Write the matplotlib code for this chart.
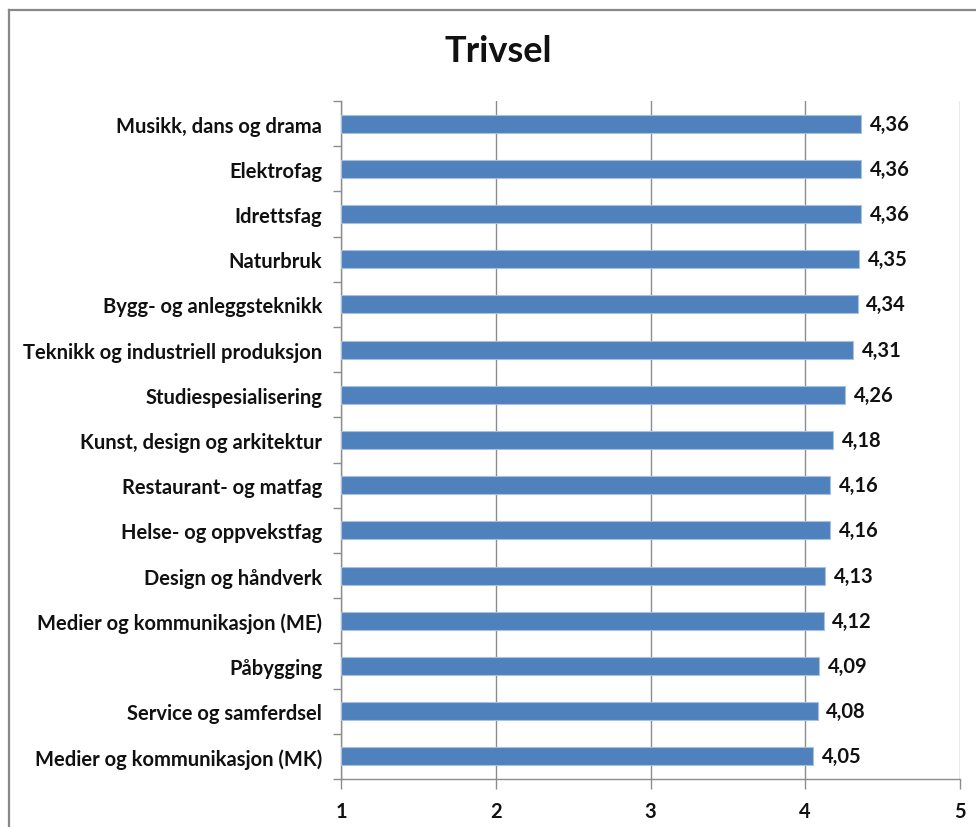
import matplotlib.pyplot as plt
from matplotlib.lines import Line2D
from matplotlib.ticker import FixedLocator

plt.rcParams['font.family'] = ['Lato', 'DejaVu Sans']

# studieprogram og gjennomsnittlig trivsel
programmer = [
    'Musikk, dans og drama',
    'Elektrofag',
    'Idrettsfag',
    'Naturbruk',
    'Bygg- og anleggsteknikk',
    'Teknikk og industriell produksjon',
    'Studiespesialisering',
    'Kunst, design og arkitektur',
    'Restaurant- og matfag',
    'Helse- og oppvekstfag',
    'Design og håndverk',
    'Medier og kommunikasjon (ME)',
    'Påbygging',
    'Service og samferdsel',
    'Medier og kommunikasjon (MK)',
]
trivsel = [4.36, 4.36, 4.36, 4.35, 4.34, 4.31, 4.26, 4.18, 4.16, 4.16,
           4.13, 4.12, 4.09, 4.08, 4.05]
x_ticks = [1, 2, 3, 4, 5]

fig = plt.figure(figsize=(9.76, 8.28), dpi=100)
ax = fig.add_axes([341 / 976, 1 - 780 / 828, 619 / 976, 678 / 828])

grey = '#8c8c8c'
txt = '#111111'
fs = 14.5
pos = list(range(len(programmer)))
ax.barh(pos, [v - 1 for v in trivsel], left=1, height=0.4,
        color='#4f81bd', edgecolor='#a9c1e0', linewidth=0.8, zorder=3)

for p, v in zip(pos, trivsel):
    ax.text(v + 0.055, p, f'{v:.2f}'.replace('.', ','), va='center', ha='left',
            fontsize=fs, fontweight='bold', color=txt)

ax.set_xlim(1, 5)
ax.set_ylim(len(programmer) - 0.5, -0.5)
ax.set_xticks(x_ticks)
ax.set_xticklabels([str(t) for t in x_ticks], fontsize=fs, fontweight='bold', color=txt)
ax.set_yticks(pos)
ax.set_yticklabels(programmer, fontsize=fs, fontweight='bold', color=txt)
ax.yaxis.set_minor_locator(FixedLocator([p - 0.5 for p in pos] + [len(pos) - 0.5]))

ax.tick_params(axis='y', which='major', length=0, pad=13.5)
ax.tick_params(axis='y', which='minor', length=6, color=grey, width=1)
ax.tick_params(axis='x', which='major', length=7, color=grey, width=1, pad=9)

ax.grid(axis='x', color=grey, linewidth=1, zorder=0)
for side in ['top', 'right']:
    ax.spines[side].set_visible(False)
for side in ['left', 'bottom']:
    ax.spines[side].set_color(grey)
    ax.spines[side].set_linewidth(1)

fig.text(498 / 976, 1 - 52 / 828, 'Trivsel', ha='center', va='center',
         fontsize=26, fontweight='bold', color=txt)

# ytre ramme rundt diagrammet (venstre og topp)
fx, fy = 8.5 / 976, 1 - 11 / 828
frame = dict(transform=fig.transFigure, color='#888888', linewidth=1.6)
fig.lines.append(Line2D([fx, fx], [0, fy], **frame))
fig.lines.append(Line2D([fx, 1], [fy, fy], **frame))

fig.savefig('out.png', dpi=100)
